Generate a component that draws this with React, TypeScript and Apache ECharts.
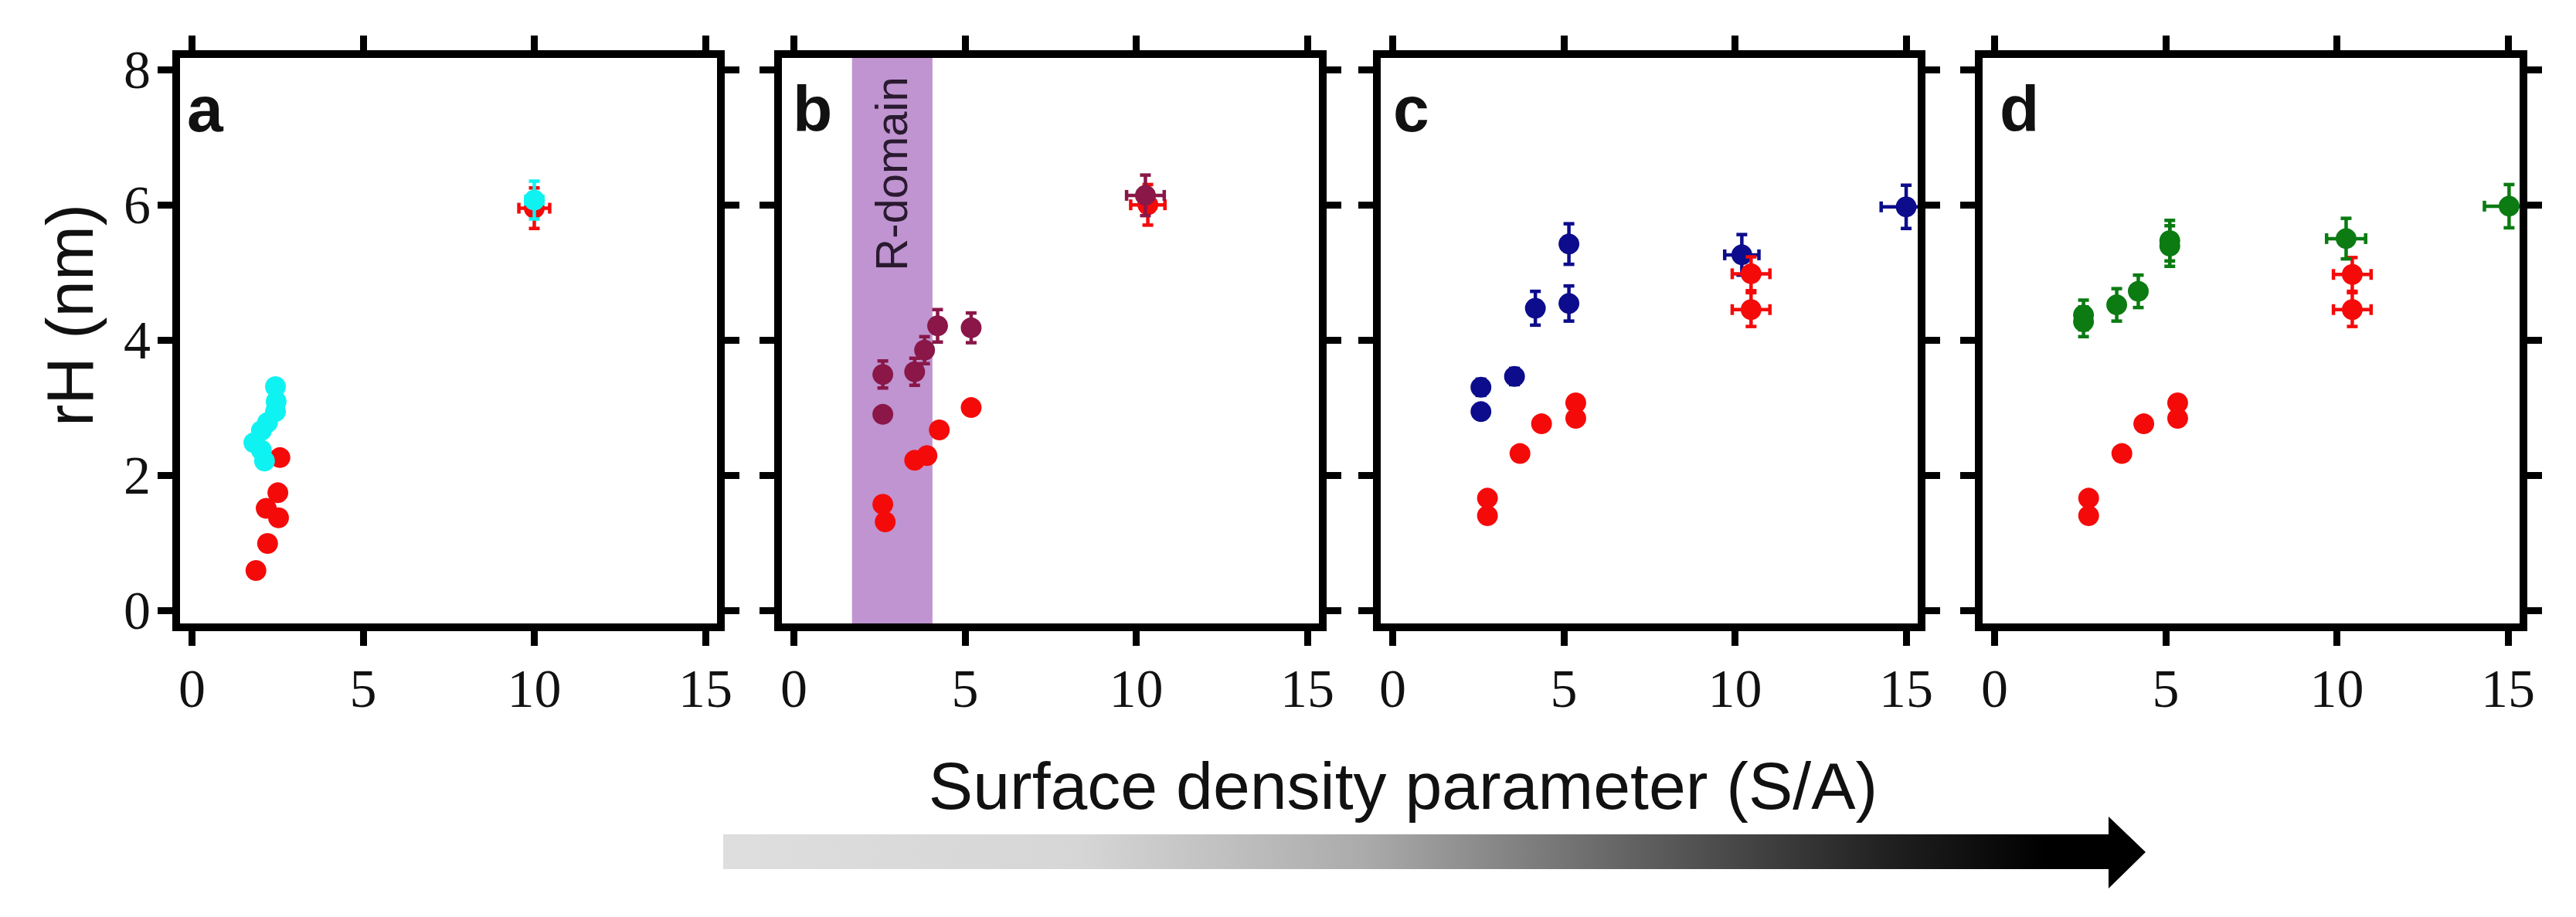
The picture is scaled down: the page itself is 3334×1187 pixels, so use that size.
import React, { useEffect, useRef } from 'react';
import * as echarts from 'echarts';

// tick values shared by every panel
const xTicks = [0, 5, 10, 15];
const yTicks = [0, 2, 4, 6, 8];
const panelLetters = ['a', 'b', 'c', 'd'];

// panel a
const aRedX = [2.57, 2.51, 2.17, 2.53, 2.21, 1.87, 10.0];
const aRedY = [2.26, 1.74, 1.51, 1.37, 0.99, 0.59, 5.95];
const aRedXErr = [0, 0, 0, 0, 0, 0, 0.45];
const aRedYErr = [0, 0, 0, 0, 0, 0, 0.3];
const aCyanX = [2.44, 2.46, 2.44, 2.21, 2.03, 1.81, 2.03, 2.12, 10.0];
const aCyanY = [3.31, 3.09, 2.94, 2.78, 2.66, 2.48, 2.37, 2.21, 6.07];
const aCyanXErr = [0, 0, 0, 0, 0, 0, 0, 0, 0.25];
const aCyanYErr = [0, 0, 0, 0, 0, 0, 0, 0, 0.28];

// panel b
const bRedX = [2.6, 2.67, 3.53, 3.89, 4.25, 5.18, 10.34];
const bRedY = [1.57, 1.31, 2.22, 2.29, 2.67, 3.0, 6.0];
const bRedXErr = [0, 0, 0, 0, 0, 0, 0.5];
const bRedYErr = [0, 0, 0, 0, 0, 0, 0.3];
const bMaroonX = [2.6, 2.6, 3.53, 3.82, 4.2, 5.18, 10.27];
const bMaroonY = [3.49, 2.9, 3.53, 3.85, 4.21, 4.18, 6.14];
const bMaroonXErr = [0, 0, 0, 0, 0, 0, 0.55];
const bMaroonYErr = [0.2, 0, 0.2, 0.2, 0.24, 0.22, 0.3];
const rDomain = [1.7, 4.05];

// panel c
const cRedX = [2.77, 2.77, 3.72, 4.35, 5.35, 5.35, 10.47, 10.47];
const cRedY = [1.66, 1.4, 2.32, 2.76, 3.07, 2.84, 4.98, 4.45];
const cRedXErr = [0, 0, 0, 0, 0, 0, 0.55, 0.55];
const cRedYErr = [0, 0, 0, 0, 0, 0, 0.25, 0.25];
const cBlueX = [2.58, 2.58, 3.56, 4.17, 5.15, 5.15, 10.2, 15.0];
const cBlueY = [3.3, 2.94, 3.46, 4.47, 4.54, 5.42, 5.26, 5.97];
const cBlueXErr = [0, 0, 0, 0, 0, 0, 0.5, 0.73];
const cBlueYErr = [0.12, 0, 0.12, 0.25, 0.26, 0.3, 0.3, 0.32];

// panel d
const dRedX = [2.75, 2.75, 3.72, 4.36, 5.35, 5.35, 10.45, 10.45];
const dRedY = [1.66, 1.4, 2.32, 2.76, 3.07, 2.84, 4.97, 4.45];
const dRedXErr = [0, 0, 0, 0, 0, 0, 0.55, 0.55];
const dRedYErr = [0, 0, 0, 0, 0, 0, 0.25, 0.25];
const dGreenX = [2.6, 2.6, 3.57, 4.2, 5.12, 5.12, 10.27, 15.03];
const dGreenY = [4.37, 4.27, 4.52, 4.72, 5.47, 5.39, 5.5, 5.98];
const dGreenXErr = [0, 0, 0, 0, 0, 0, 0.57, 0.72];
const dGreenYErr = [0.22, 0.22, 0.24, 0.24, 0.3, 0.3, 0.3, 0.32];

const RED = '#f50a0a';
const CYAN = '#0ff2f2';
const MAROON = '#8a1748';
const NAVY = '#0c0c8c';
const GREEN = '#0b7b12';

const gridLefts = [228, 1007, 1782, 2561];
const gridWidth = 705;
const gridTop = 70;
const gridHeight = 742;

const SERIF = '"Liberation Serif", "Times New Roman", serif';
const SANS = '"Liberation Sans", Arial, sans-serif';

const pts = (xs: number[], ys: number[]) => xs.map((x, i) => [x, ys[i]]);
const errs = (xs: number[], ys: number[], xe: number[], ye: number[]) =>
  xs.map((x, i) => [x, ys[i], xe[i], ye[i]]).filter((d) => d[2] > 0 || d[3] > 0);

// error bars with caps, drawn through the axis scales
const errorBars = (color: string) => (_params: any, api: any) => {
  const x = api.value(0);
  const y = api.value(1);
  const ex = api.value(2);
  const ey = api.value(3);
  const style = { stroke: color, lineWidth: 4.5 };
  const cap = 7;
  const kids: any[] = [];
  const seg = (x1: number, y1: number, x2: number, y2: number) =>
    kids.push({ type: 'line', shape: { x1, y1, x2, y2 }, style });
  if (ey > 0) {
    const t = api.coord([x, y + ey]);
    const b = api.coord([x, y - ey]);
    seg(t[0], t[1], b[0], b[1]);
    seg(t[0] - cap, t[1], t[0] + cap, t[1]);
    seg(b[0] - cap, b[1], b[0] + cap, b[1]);
  }
  if (ex > 0) {
    const l = api.coord([x - ex, y]);
    const r = api.coord([x + ex, y]);
    seg(l[0], l[1], r[0], r[1]);
    seg(l[0], l[1] - cap, l[0], l[1] + cap);
    seg(r[0], r[1] - cap, r[0], r[1] + cap);
  }
  return { type: 'group', children: kids };
};

const App: React.FC = () => {
  const chartRef = useRef<HTMLDivElement>(null);

  useEffect(() => {
    if (!chartRef.current) return;
    const chart = echarts.init(chartRef.current, undefined, { renderer: 'svg' });

    const tickStyle = { color: '#000', width: 9 };
    const lineStyle = { color: '#000', width: 10, cap: 'square' as const };

    const grids = gridLefts.map((left) => ({
      left,
      top: gridTop,
      width: gridWidth,
      height: gridHeight,
      containLabel: false,
    }));

    const xAxes: any[] = [];
    const yAxes: any[] = [];
    gridLefts.forEach((_, i) => {
      const xBase = {
        gridIndex: i,
        type: 'value',
        min: -0.46,
        max: 15.45,
        z: 10,
        splitLine: { show: false },
        axisLine: { show: true, onZero: false, lineStyle },
        axisTick: { show: true, inside: false, length: 24, customValues: xTicks, lineStyle: tickStyle },
      };
      xAxes.push({
        ...xBase,
        position: 'bottom',
        axisLabel: {
          show: true,
          customValues: xTicks,
          margin: 44,
          fontFamily: SERIF,
          fontSize: 70,
          color: '#111',
        },
      });
      xAxes.push({ ...xBase, position: 'top', axisLabel: { show: false } });

      const yBase = {
        gridIndex: i,
        type: 'value',
        min: -0.25,
        max: 8.23,
        z: 10,
        splitLine: { show: false },
        axisLine: { show: true, onZero: false, lineStyle },
        axisTick: { show: true, inside: false, length: 24, customValues: yTicks, lineStyle: tickStyle },
      };
      yAxes.push({
        ...yBase,
        position: 'left',
        axisLabel: {
          show: i === 0,
          customValues: yTicks,
          margin: 33,
          fontFamily: SERIF,
          fontSize: 70,
          color: '#111',
        },
      });
      yAxes.push({ ...yBase, position: 'right', axisLabel: { show: false } });
    });

    const scatter = (panel: number, color: string, xs: number[], ys: number[], z = 3) => ({
      type: 'scatter',
      xAxisIndex: panel * 2,
      yAxisIndex: panel * 2,
      data: pts(xs, ys),
      symbol: 'circle',
      symbolSize: 27,
      itemStyle: { color, opacity: 1 },
      z,
      silent: true,
    });

    const bars = (panel: number, color: string, xs: number[], ys: number[], xe: number[], ye: number[], z = 3) => ({
      type: 'custom',
      xAxisIndex: panel * 2,
      yAxisIndex: panel * 2,
      data: errs(xs, ys, xe, ye),
      encode: { x: 0, y: 1 },
      renderItem: errorBars(color),
      clip: true,
      z,
      silent: true,
    });

    const series: any[] = [
      // R-domain band in panel b
      {
        type: 'scatter',
        xAxisIndex: 2,
        yAxisIndex: 2,
        data: [],
        z: 1,
        silent: true,
        markArea: {
          silent: true,
          itemStyle: { color: '#bf94d0', opacity: 1 },
          label: { show: false },
          data: [[{ xAxis: rDomain[0] }, { xAxis: rDomain[1] }]],
        },
      },
      bars(0, RED, aRedX, aRedY, aRedXErr, aRedYErr, 2),
      scatter(0, RED, aRedX, aRedY, 2),
      bars(0, CYAN, aCyanX, aCyanY, aCyanXErr, aCyanYErr),
      scatter(0, CYAN, aCyanX, aCyanY),

      bars(1, RED, bRedX, bRedY, bRedXErr, bRedYErr, 2),
      scatter(1, RED, bRedX, bRedY, 2),
      bars(1, MAROON, bMaroonX, bMaroonY, bMaroonXErr, bMaroonYErr),
      scatter(1, MAROON, bMaroonX, bMaroonY),

      bars(2, NAVY, cBlueX, cBlueY, cBlueXErr, cBlueYErr, 2),
      scatter(2, NAVY, cBlueX, cBlueY, 2),
      bars(2, RED, cRedX, cRedY, cRedXErr, cRedYErr),
      scatter(2, RED, cRedX, cRedY),

      bars(3, RED, dRedX, dRedY, dRedXErr, dRedYErr, 2),
      scatter(3, RED, dRedX, dRedY, 2),
      bars(3, GREEN, dGreenX, dGreenY, dGreenXErr, dGreenYErr),
      scatter(3, GREEN, dGreenX, dGreenY),
    ];

    const letterOffsets = [14, 19, 21, 27];
    const letters = panelLetters.map((t, i) => ({
      type: 'text',
      x: gridLefts[i] + letterOffsets[i],
      y: 141,
      z: 20,
      style: {
        text: t,
        font: `bold 84px ${SANS}`,
        fill: '#111',
        textAlign: 'left',
        textVerticalAlign: 'middle',
      },
    }));

    chart.setOption({
      animation: false,
      backgroundColor: '#fff',
      grid: grids,
      xAxis: xAxes,
      yAxis: yAxes,
      series,
      graphic: [
        ...letters,
        {
          type: 'text',
          x: 1153,
          y: 225,
          rotation: Math.PI / 2,
          z: 20,
          style: {
            text: 'R-domain',
            font: `58px ${SANS}`,
            fill: '#2a1a30',
            textAlign: 'center',
            textVerticalAlign: 'middle',
          },
        },
        {
          type: 'text',
          x: 90,
          y: 408,
          rotation: Math.PI / 2,
          z: 20,
          style: {
            text: 'rH (nm)',
            font: `85px ${SANS}`,
            fill: '#111',
            textAlign: 'center',
            textVerticalAlign: 'middle',
          },
        },
        {
          type: 'text',
          x: 1816,
          y: 1017,
          z: 20,
          style: {
            text: 'Surface density parameter (S/A)',
            font: `86px ${SANS}`,
            fill: '#111',
            textAlign: 'center',
            textVerticalAlign: 'middle',
          },
        },
        {
          type: 'polygon',
          z: 20,
          shape: {
            points: [
              [936, 1080],
              [2729, 1080],
              [2729, 1057],
              [2777, 1103],
              [2729, 1150],
              [2729, 1125],
              [936, 1125],
            ],
          },
          style: {
            fill: new echarts.graphic.LinearGradient(0, 0, 1, 0, [
              { offset: 0, color: '#dedede' },
              { offset: 0.25, color: '#d6d6d6' },
              { offset: 0.45, color: '#ababab' },
              { offset: 0.65, color: '#5e5e5e' },
              { offset: 0.82, color: '#202020' },
              { offset: 0.93, color: '#000' },
              { offset: 1, color: '#000' },
            ]),
          },
        },
      ],
    });

    return () => {
      chart.dispose();
    };
  }, []);

  return (
    <div
      ref={chartRef}
      style={{ position: 'absolute', left: 0, top: 0, width: 3334, height: 1187, background: '#fff' }}
    />
  );
};

export default App;
